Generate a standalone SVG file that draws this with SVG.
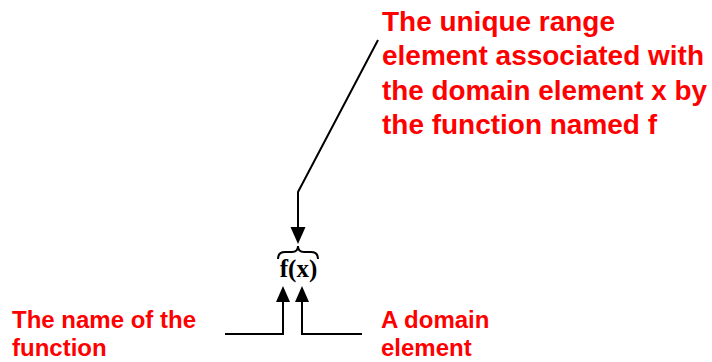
<svg xmlns="http://www.w3.org/2000/svg" width="712" height="362" viewBox="0 0 712 362">
<style>
.lbl{font-family:"Liberation Sans",Arial,sans-serif;font-weight:bold;fill:#ff0000;}
.top{font-size:27px;}
.bot{font-size:24px;}
.ln{stroke:#000;stroke-width:2;fill:none;}
.fx{font-family:"Liberation Serif","Times New Roman",serif;font-weight:bold;font-size:25px;fill:#000;}
</style>
<g id="range-label">
<text class="lbl top" x="382" y="31" textLength="233" lengthAdjust="spacingAndGlyphs">The unique range</text>
<text class="lbl top" x="382" y="65" textLength="322" lengthAdjust="spacingAndGlyphs">element associated with</text>
<text class="lbl top" x="382" y="100" textLength="325" lengthAdjust="spacingAndGlyphs">the domain element x by</text>
<text class="lbl top" x="382" y="134" textLength="275" lengthAdjust="spacingAndGlyphs">the function named f</text>
</g>
<g id="name-label">
<text class="lbl bot" x="12" y="328">The name of the</text>
<text class="lbl bot" x="12" y="356">function</text>
</g>
<g id="domain-label">
<text class="lbl bot" x="381" y="328">A domain</text>
<text class="lbl bot" x="381" y="356">element</text>
</g>
<g id="fx-node">
<path class="ln" stroke-width="3" d="M278,259 Q278,252 285,252 L292,252 Q298,252 298,246 Q298,252 304,252 L311,252 Q318,252 318,259"/>
<text class="fx" x="298.5" y="277" text-anchor="middle">f(x)</text>
</g>
<g id="connectors">
<path d="M378,40 L298,192 L298,228" class="ln"/>
<path d="M290.5,227 L305.5,227 L298,244 Z" fill="#000"/>
<path d="M225,334 L283,334 L283,301" class="ln"/>
<path d="M276,302 L290,302 L283,286 Z" fill="#000"/>
<path d="M362,334 L302,334 L302,301" class="ln"/>
<path d="M295,302 L309,302 L302,286 Z" fill="#000"/>
</g>
</svg>
